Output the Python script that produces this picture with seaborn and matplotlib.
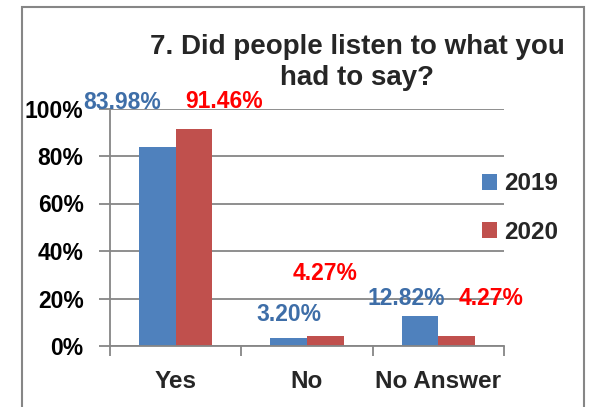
import matplotlib
matplotlib.use("Agg")
import matplotlib.pyplot as plt
import seaborn as sns
import pandas as pd
from matplotlib.patches import Rectangle
from matplotlib.ticker import FuncFormatter

categories = ["Yes", "No", "No Answer"]
years = ["2019", "2020"]
values_2019 = [83.98, 3.20, 12.82]
values_2020 = [91.46, 4.27, 4.27]
y_ticks = [0, 20, 40, 60, 80, 100]

# label offsets (pixels) relative to bar tops, as placed in the original chart
offsets_2019 = [(-35, 44), (0, 24), (-14, 17)]
offsets_2020 = [(30, 27), (0, 62), (34, 37)]

df = pd.DataFrame({
    "category": categories * 2,
    "year": [years[0]] * 3 + [years[1]] * 3,
    "value": values_2019 + values_2020,
})

sns.set_theme(style="white")
plt.rcParams["font.family"] = ["Liberation Sans", "DejaVu Sans"]
plt.rcParams["font.weight"] = "bold"

colors = {"2019": "#4F81BD", "2020": "#C0504D"}
label_colors = {"2019": "#3E6EA8", "2020": "#FF0000"}
grid_c = "#868686"

fig = plt.figure(figsize=(5.9, 4.07), dpi=100)
ax = fig.add_axes([110 / 590, 1 - 346 / 407, (504 - 110) / 590, (346 - 108.5) / 407])

sns.barplot(data=df, x="category", y="value", hue="year", order=categories,
            hue_order=years, palette=colors, width=0.56, gap=0, ax=ax,
            saturation=1, legend=False, linewidth=0)

ax.set_ylim(0, 100)
ax.set_xlim(-0.5, 2.5)
ax.set_yticks(y_ticks)
ax.yaxis.set_major_formatter(FuncFormatter(lambda v, p: f"{int(v)}%"))
ax.grid(axis="y", color=grid_c, linewidth=1.3)
ax.set_axisbelow(True)
ax.set_xlabel("")
ax.set_ylabel("")
for s in ["top", "right"]:
    ax.spines[s].set_visible(False)
for s in ["left", "bottom"]:
    ax.spines[s].set_color(grid_c)
    ax.spines[s].set_linewidth(1.3)

ax.tick_params(axis="y", which="major", length=8, color=grid_c, width=1.3,
               labelsize=16.5, labelcolor="black", left=True, pad=11)
ax.set_xticks(range(len(categories)))
ax.set_xticklabels(categories, fontsize=17.5, fontweight="bold")
ax.tick_params(axis="x", which="major", length=0, pad=17)
ax.set_xticks([-0.5, 0.5, 1.5, 2.5], minor=True)
ax.tick_params(axis="x", which="minor", length=7, color=grid_c, width=1.3, bottom=True)
for t in ax.get_yticklabels():
    t.set_fontweight("bold")

for cont, yr, offs in zip(ax.containers, years, [offsets_2019, offsets_2020]):
    for bar, (dx, dy) in zip(cont, offs):
        v = bar.get_height()
        ax.annotate(f"{v:.2f}%", xy=(bar.get_x() + bar.get_width() / 2, v),
                    xytext=(dx, dy), textcoords="offset pixels",
                    ha="center", va="center", fontsize=16.5, fontweight="bold",
                    color=label_colors[yr], annotation_clip=False)

handles = [Rectangle((0, 0), 1, 1, facecolor=colors[y], edgecolor="none") for y in years]
fig.legend(handles, years, loc="center", bbox_to_anchor=(520 / 590, 1 - 208 / 407),
           frameon=False, handlelength=0.62, handleheight=0.62, handletextpad=0.3,
           labelspacing=1.05, prop={"size": 17.5, "weight": "bold"})

fig.text(357 / 590, 1 - 34 / 407, "7. Did people listen to what you\nhad to say?",
         ha="center", va="top", fontsize=20, fontweight="bold", linespacing=1.25)

fig.patches.append(Rectangle((22 / 590, -0.05), (584 - 22) / 590, 1.05 - 7 / 407,
                             transform=fig.transFigure, fill=False,
                             edgecolor=grid_c, linewidth=1.5))

fig.savefig("out.png", dpi=100)
